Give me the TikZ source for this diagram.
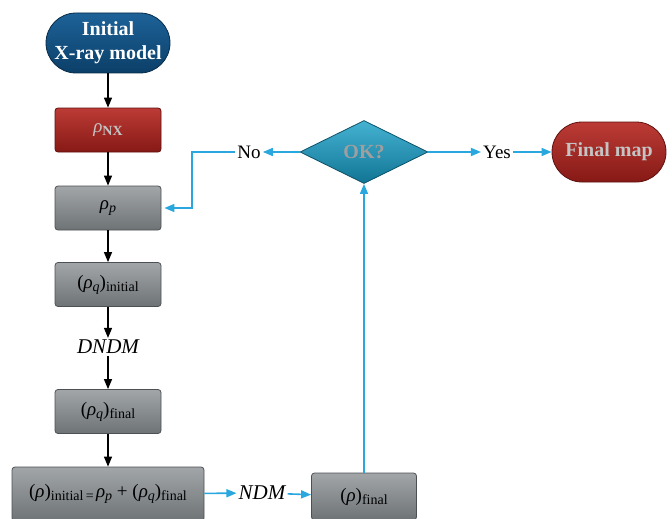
\documentclass[tikz,border=0pt]{standalone}
\usepackage{fontspec}
\setmainfont{Liberation Serif}
\usetikzlibrary{shapes.geometric,arrows.meta,calc}
\definecolor{cblueT}{HTML}{1D6298}
\definecolor{cblueB}{HTML}{0B3F68}
\definecolor{credT}{HTML}{BC3B36}
\definecolor{credB}{HTML}{861915}
\definecolor{cgrayT}{HTML}{A2A6A9}
\definecolor{cgrayB}{HTML}{6E7376}
\definecolor{cteaT}{HTML}{45B2D2}
\definecolor{cteaB}{HTML}{117595}
\definecolor{carrow}{HTML}{2AA7DF}
\definecolor{clight}{HTML}{C4C4C4}
\newcommand{\rsub}[1]{\raisebox{-0.35ex}{\fontsize{14}{14}\selectfont #1}}
\newcommand{\rrho}{{\itshape ρ}}
\begin{document}
\begin{tikzpicture}[x=1pt,y=-1pt,
  boxbase/.style={rectangle, rounded corners=3pt, inner sep=2pt, line width=0.8pt, font=\fontsize{19}{22}\selectfont},
  graybox/.style={boxbase, draw=cgrayB!70!black, top color=cgrayT, bottom color=cgrayB, minimum width=106pt, minimum height=44pt},
  redbox/.style={boxbase, draw=credB!70!black, top color=credT, bottom color=credB, minimum width=106pt, minimum height=44pt, text=clight},
  startbox/.style={rectangle, rounded corners=30pt, draw=cblueB!70!black, line width=0.8pt, top color=cblueT, bottom color=cblueB, minimum width=124pt, minimum height=60pt, text=white, align=center, font=\bfseries\fontsize{20}{24}\selectfont, inner sep=0pt},
  endbox/.style={rectangle, rounded corners=30pt, draw=credB!70!black, line width=0.8pt, top color=credT, bottom color=credB, minimum width=114pt, minimum height=60pt, text=clight, font=\bfseries\fontsize{20}{24}\selectfont, inner sep=0pt},
  decision/.style={diamond, aspect=2, draw=cteaB!70!black, line width=0.8pt, top color=cteaT, bottom color=cteaB, minimum width=128pt, minimum height=63pt, inner sep=0pt, text=gray!75, font=\bfseries\fontsize{20}{24}\selectfont},
  lbl/.style={inner sep=2pt, font=\fontsize{19}{22}\selectfont},
  ilbl/.style={inner sep=2pt, font=\itshape\fontsize{21}{24}\selectfont},
  blk/.style={draw=black, line width=1.2pt, -{Triangle[length=10pt,width=8pt]}},
  blu/.style={draw=carrow, line width=1.6pt, -{Triangle[length=10pt,width=8pt]}}
]
\useasboundingbox (0,0) rectangle (672,519);

\node[startbox] (init) at (108,43) {Initial\\X-ray model};
\node[redbox] (nx) at (108,130) {\rrho\rsub{\bfseries NX}};
\node[graybox] (p) at (108,208) {\rrho\rsub{\itshape p}};
\node[graybox] (qi) at (108,284.5) {(\rrho\rsub{\itshape q})\rsub{initial}};
\node[ilbl] (dndm) at (108,347) {DNDM};
\node[graybox] (qf) at (108,411.5) {(\rrho\rsub{\itshape q})\rsub{final}};
\node[graybox, minimum width=192pt, minimum height=54pt] (ri) at (108,494) {(\rrho)\rsub{initial\,=\,}\rrho\rsub{\itshape p} + (\rrho\rsub{\itshape q})\rsub{final}};
\node[ilbl] (ndm) at (262,493) {NDM};
\node[graybox, minimum width=105pt, minimum height=47pt] (rf) at (364,496.5) {(\rrho)\rsub{final}};
\node[decision] (ok) at (364,152) {OK?};
\node[lbl] (no) at (249,152) {No};
\node[lbl] (yes) at (497,152) {Yes};
\node[endbox] (fm) at (609,152) {Final map};
\coordinate (turn) at (192,152);

\draw[blk] (init) -- (nx);
\draw[blk] (nx) -- (p);
\draw[blk] (p) -- (qi);
\draw[blk] (qi) -- (dndm);
\draw[blk] (dndm) -- (qf);
\draw[blk] (qf) -- (ri);
\draw[blu] (ri) -- (ndm);
\draw[blu] (ndm) -- (rf);
\draw[blu] (rf.north) -- (ok.south);
\draw[blu] (ok) -- (no);
\draw[blu, shorten >=3pt] (no.west) -- (turn) |- (p.east);
\draw[blu] (ok) -- (yes);
\draw[blu] (yes) -- (fm);
\end{tikzpicture}
\end{document}
